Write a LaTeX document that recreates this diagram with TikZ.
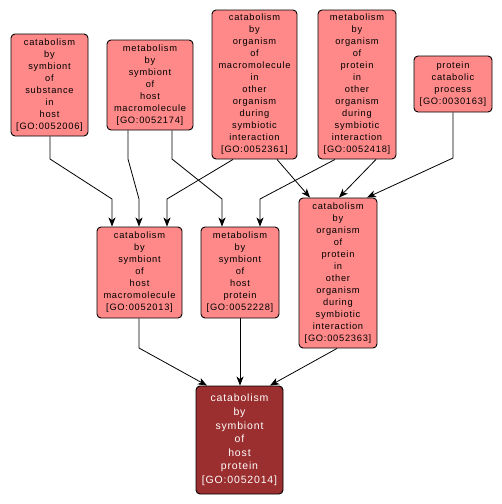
\documentclass[tikz,border=0pt]{standalone}
\usepackage{fontspec}
\setmainfont{Liberation Sans}[LetterSpace=8]
\usetikzlibrary{arrows.meta}
\definecolor{lightnode}{RGB}{255,137,137}
\definecolor{darknode}{RGB}{155,46,46}
\tikzset{
  gobox/.style={draw=black, line width=0.9pt, rounded corners=4pt, fill=lightnode,
    align=center, inner sep=0pt, font=\fontsize{9.3}{12}\selectfont},
  gohit/.style={gobox, fill=darknode, text=white, font=\fontsize{10.5}{13.6}\selectfont},
  arr/.style={draw=black, line width=0.8pt, -{Stealth[length=9pt,width=7pt,inset=2.5pt]}}
}
\begin{document}
\begin{tikzpicture}[x=1pt,y=-1pt]
\useasboundingbox (0,0) rectangle (502,504);
\fill[white] (0,0) rectangle (502,504);
\node[gobox, minimum width=77pt, minimum height=102pt] (A) at (49.5,85)
  {catabolism\\by\\symbiont\\of\\substance\\in\\host\\{[GO:0052006]}};
\node[gobox, minimum width=86pt, minimum height=90pt] (B) at (150,85)
  {metabolism\\by\\symbiont\\of\\host\\macromolecule\\{[GO:0052174]}};
\node[gobox, minimum width=85pt, minimum height=149pt] (C) at (254.5,84.5)
  {catabolism\\by\\organism\\of\\macromolecule\\in\\other\\organism\\during\\symbiotic\\interaction\\{[GO:0052361]}};
\node[gobox, minimum width=78pt, minimum height=149pt] (D) at (357,84.5)
  {metabolism\\by\\organism\\of\\protein\\in\\other\\organism\\during\\symbiotic\\interaction\\{[GO:0052418]}};
\node[gobox, minimum width=78pt, minimum height=56pt] (E) at (453,84)
  {protein\\catabolic\\process\\{[GO:0030163]}};
\node[gobox, minimum width=85pt, minimum height=91pt] (F) at (139.5,272.5)
  {catabolism\\by\\symbiont\\of\\host\\macromolecule\\{[GO:0052013]}};
\node[gobox, minimum width=78pt, minimum height=91pt] (G) at (240,272.5)
  {metabolism\\by\\symbiont\\of\\host\\protein\\{[GO:0052228]}};
\node[gobox, minimum width=78pt, minimum height=150pt] (H) at (338,273)
  {catabolism\\by\\organism\\of\\protein\\in\\other\\organism\\during\\symbiotic\\interaction\\{[GO:0052363]}};
\node[gohit, minimum width=87pt, minimum height=108pt] (I) at (239.5,440)
  {catabolism\\by\\symbiont\\of\\host\\protein\\{[GO:0052014]}};
% edges
\draw[arr] ([xshift=0.5pt]A.south) -- (50,159) -- (112,199) -- ([xshift=-27.5pt]F.north);
\draw[arr] ([xshift=-22pt]B.south) -- (128,159) -- (139,199) -- ([xshift=-0.5pt]F.north);
\draw[arr] ([xshift=22pt]B.south) -- (172,159) -- (222,199) -- ([xshift=-18pt]G.north);
\draw[arr] ([xshift=-21.5pt]C.south) -- (167,199) -- ([xshift=27.5pt]F.north);
\draw[arr] ([xshift=22.5pt]C.south) -- ([xshift=-28pt]H.north);
\draw[arr] ([xshift=-22pt]D.south) -- (260,199) -- ([xshift=20pt]G.north);
\draw[arr] ([xshift=19pt]D.south) -- ([xshift=1pt]H.north);
\draw[arr] (E.south) -- (453,158) -- ([xshift=29pt]H.north);
\draw[arr] ([xshift=-0.5pt]F.south) -- (139,348) -- ([xshift=-32.5pt]I.north);
\draw[arr] (G.south) -- ([xshift=0.5pt]I.north);
\draw[arr] ([xshift=-1pt]H.south) -- ([xshift=30.5pt]I.north);
\end{tikzpicture}
\end{document}
